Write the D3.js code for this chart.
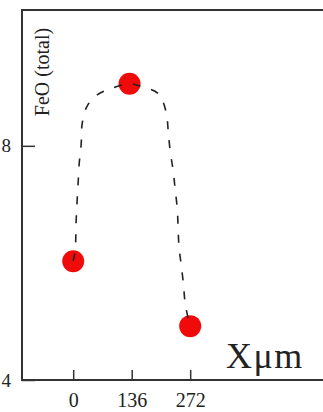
<!DOCTYPE html>
<html>
<head>
<meta charset="utf-8">
<script src="https://cdn.jsdelivr.net/npm/d3@7"></script>
<style>
  body { margin: 0; background: #fff; }
  svg { display: block; }
</style>
</head>
<body>
<svg id="chart" width="323" height="412"></svg>
<script>
// measured points (x in um, FeO total)
const pointX = [0, 131, 272];
const pointY = [6.03, 9.06, 4.92];

// dashed fitted curve
const curveX = [0, 4.6, 7, 9.3, 11.6, 13.9, 18.6, 20.9, 32.5, 55.8, 86, 131,
  160, 198, 216, 221, 225.5, 232.5, 237, 242, 244, 246, 251, 256, 260, 267, 272];
const curveY = [6.03, 6.22, 6.74, 7.08, 7.38, 7.69, 8.03, 8.38, 8.68, 8.87, 8.97, 9.06,
  9.01, 8.89, 8.58, 8.24, 7.91, 7.57, 7.26, 6.92, 6.58, 6.27, 5.97, 5.66, 5.33, 5.06, 4.92];

const xTicks = [0, 136, 272];
const yTicks = [4, 8];

const serif = '"Liberation Serif", "Times New Roman", serif';

const svg = d3.select("#chart");
const margin = {top: 10, left: 22, bottom: 32};
const height = +svg.attr("height") - margin.top - margin.bottom;

// same px per unit as the picture: 136 um ~ 58.5 px, 1 unit FeO ~ 58.5 px
const xDomain = [-119, 600];
const width = (xDomain[1] - xDomain[0]) * 58.5 / 136;
const x = d3.scaleLinear().domain(xDomain).range([0, width]);
const y = d3.scaleLinear().domain([4, 10.32]).range([height, 0]);

const g = svg.append("g").attr("transform", `translate(${margin.left},${margin.top})`);

// frame
g.append("rect")
  .attr("width", width).attr("height", height)
  .attr("fill", "none").attr("stroke", "#333").attr("stroke-width", 2);

const xAxis = g.append("g")
  .attr("transform", `translate(0,${height})`)
  .call(d3.axisBottom(x).tickValues(xTicks).tickFormat(d3.format("d"))
    .tickSizeInner(-10).tickSizeOuter(0).tickPadding(13));
const yAxis = g.append("g")
  .call(d3.axisLeft(y).tickValues(yTicks).tickFormat(d3.format("d"))
    .tickSizeInner(-13).tickSizeOuter(0).tickPadding(11));

[xAxis, yAxis].forEach(a => {
  a.select(".domain").remove();
  a.selectAll(".tick line").attr("stroke", "#333").attr("stroke-width", 1.5);
  a.selectAll(".tick text")
    .attr("fill", "#222")
    .style("font-family", serif)
    .style("font-size", "20px");
});
yAxis.selectAll(".tick text").style("font-size", "19px");

// points
g.selectAll("circle.pt")
  .data(pointX.map((d, i) => ({x: d, y: pointY[i]})))
  .join("circle")
  .attr("class", "pt")
  .attr("cx", d => x(d.x))
  .attr("cy", d => y(d.y))
  .attr("r", 11)
  .attr("fill", "#f00a0a");

// dashed curve on top of the points
const line = d3.line()
  .x(d => x(d.x))
  .y(d => y(d.y))
  .curve(d3.curveCatmullRom);

g.append("path")
  .datum(curveX.map((d, i) => ({x: d, y: curveY[i]})))
  .attr("d", line)
  .attr("fill", "none")
  .attr("stroke", "#222")
  .attr("stroke-width", 1.6)
  .attr("stroke-dasharray", "8,11");

// labels
g.append("text")
  .attr("transform", `translate(${42 - margin.left},${72 - margin.top}) rotate(-90)`)
  .attr("text-anchor", "middle")
  .attr("dominant-baseline", "central")
  .attr("fill", "#222")
  .style("font-family", serif)
  .style("font-size", "20px")
  .text("FeO (total)");

g.append("text")
  .attr("x", 226 - margin.left)
  .attr("y", 368 - margin.top)
  .attr("fill", "#222")
  .style("font-family", serif)
  .style("font-size", "36px")
  .style("letter-spacing", "1.5px")
  .text("Xμm");
</script>
</body>
</html>
